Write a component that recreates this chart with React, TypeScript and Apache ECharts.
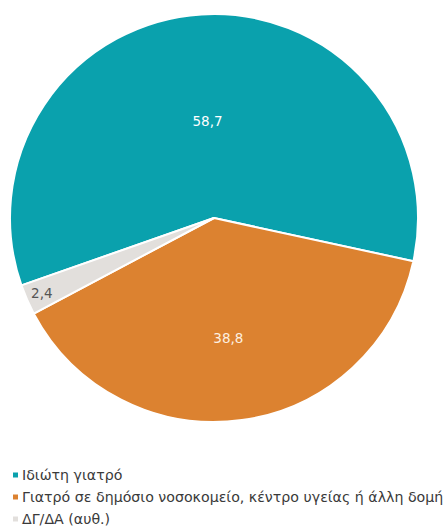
import React, { useEffect, useRef } from "react";
import * as echarts from "echarts";

const categories = [
  "Ιδιώτη γιατρό",
  "Γιατρό σε δημόσιο νοσοκομείο, κέντρο υγείας ή άλλη δομή",
  "ΔΓ/ΔΑ (αυθ.)",
];
const values = [58.7, 38.8, 2.4];
const colors = ["#0aa1ad", "#dc8230", "#e2dfdc"];
const labelColors = ["#ffffff", "#fdf0e0", "#555555"];
const labelOffsets = [
  [0, 8],
  [0, 16],
  [-76, 33],
];

export default function App() {
  const ref = useRef<HTMLDivElement>(null);
  useEffect(() => {
    const chart = echarts.init(ref.current!, undefined, { renderer: "svg" });
    chart.setOption({
      animation: false,
      legend: {
        orient: "vertical",
        left: 11,
        top: 468,
        height: 80,
        padding: 0,
        itemWidth: 7,
        itemHeight: 7,
        itemGap: 8,
        icon: "rect",
        textStyle: { fontSize: 14.2, color: "#3a3a3a", fontFamily: "DejaVu Sans", padding: [0, 0, 0, -2] },
        data: categories,
      },
      series: [
        {
          type: "pie",
          center: [214, 218],
          radius: [0, 204],
          startAngle: 199.3,
          clockwise: true,
          itemStyle: { borderColor: "#ffffff", borderWidth: 2 },
          label: {
            show: true,
            position: "inside",
            fontSize: 13.5,
            fontFamily: "DejaVu Sans",
            formatter: (p: any) => String(p.value).replace(".", ","),
          },
          labelLine: { show: false },
          emphasis: { disabled: true },
          data: categories.map((name, i) => ({
            name,
            value: values[i],
            itemStyle: { color: colors[i] },
            label: { color: labelColors[i], offset: labelOffsets[i] },
          })),
        },
      ],
    });
    return () => chart.dispose();
  }, []);
  return (
    <div
      ref={ref}
      style={{ position: "fixed", left: 0, top: 0, width: 448, height: 529, background: "#fff" }}
    />
  );
}
